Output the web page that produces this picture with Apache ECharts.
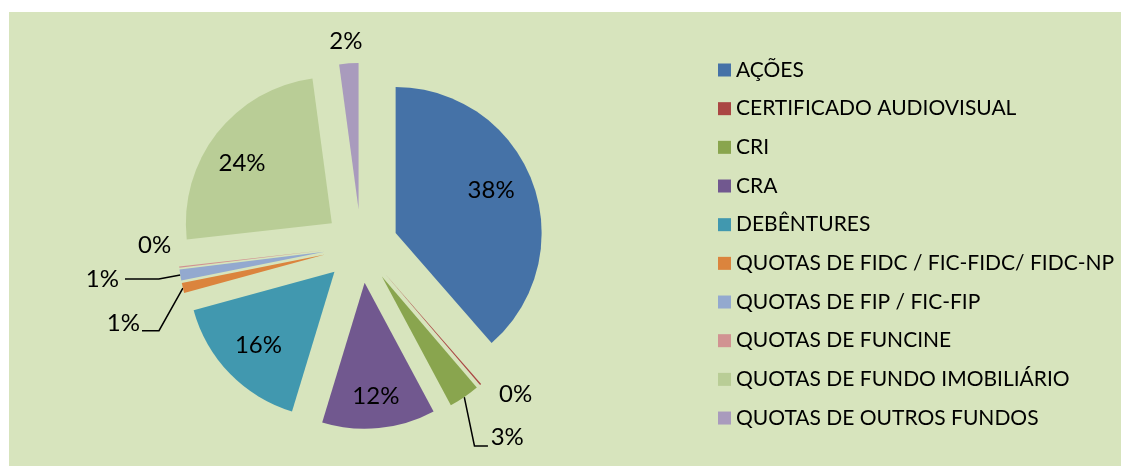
<!DOCTYPE html>
<html><head><meta charset="utf-8">
<script src="https://cdn.jsdelivr.net/npm/echarts@6/dist/echarts.min.js"></script>
<style>
html,body{margin:0;padding:0;background:#fff;width:1121px;height:466px;overflow:hidden}
#bg{position:absolute;left:9px;top:12px;width:1112px;height:454px;background:#D7E4BD}
#chart{position:absolute;left:0;top:0;width:1121px;height:466px}
</style></head><body>
<div id="bg"></div><div id="chart"></div>
<script>
// ---- data ----
const categories = ['AÇÕES', 'CERTIFICADO AUDIOVISUAL', 'CRI', 'CRA', 'DEBÊNTURES',
  'QUOTAS DE FIDC / FIC-FIDC/ FIDC-NP', 'QUOTAS DE FIP / FIC-FIP', 'QUOTAS DE FUNCINE',
  'QUOTAS DE FUNDO IMOBILIÁRIO', 'QUOTAS DE OUTROS FUNDOS'];
const shares = [38.2, 0.15, 3.4, 12.4, 15.9, 1.1, 1.2, 0.15, 24.4, 2.1];

// ---- styles ----
const colors = ['#4572A7', '#AA4643', '#89A54E', '#71588F', '#4198AF',
  '#DB843D', '#93A9CF', '#D19392', '#B9CD96', '#A99BBD'];
const FONT = 'Lato, "Open Sans", sans-serif';
const pct = v => Math.round(v) + '%';
const fmt = p => pct(p.value);
// text raised above / lowered below its anchor by a blank extra line
const raised = gap => p => '{t|' + pct(p.value) + '}\n{' + gap + '| }';
const lowered = gap => p => '{' + gap + '| }\n{t|' + pct(p.value) + '}';

// labels drawn by the coloured series (with leader lines / overlap layout)
const mainLabels = {
  'CERTIFICADO AUDIOVISUAL': { label: { show: true, position: 'outside', distanceToLabelLine: 0,
           padding: [12.4, 0, 12.4, 0], backgroundColor: 'transparent' },
           labelLine: { show: false, length: 12.5, length2: -15.7 } },
  'CRI': { label: { show: true, position: 'outside', distanceToLabelLine: 2.7, formatter: raised('g18') },
           labelLine: { show: true, length: 18, length2: 13.5 } },
  'QUOTAS DE FIDC / FIC-FIDC/ FIDC-NP': { label: { show: true, position: 'outside', distanceToLabelLine: 2,
           formatter: raised('g14') },
           labelLine: { show: true, length: 24.55, length2: 17 } },
  'QUOTAS DE FIP / FIC-FIP': { label: { show: true, position: 'outside', distanceToLabelLine: 6,
           padding: [14, 0, 14, 0], backgroundColor: 'transparent' },
           labelLine: { show: true, length: 26, length2: 33.8 } }
};
// labels drawn by transparent label series
const overlayLabelsA = {
  'DEBÊNTURES': { label: { show: true, position: 'inside' } },
  'QUOTAS DE FUNCINE': { label: { show: true, position: 'outside', distanceToLabelLine: 8,
           formatter: raised('g44') },
           labelLine: { show: false, length: 0, length2: 0 } },
  'QUOTAS DE OUTROS FUNDOS': { label: { show: true, position: 'outside', distanceToLabelLine: -15.2 },
           labelLine: { show: false, length: 22.4, length2: 0 } }
};
const overlayLabelsB = {
  'CRA': { label: { show: true, position: 'inside' } },
  'QUOTAS DE FUNDO IMOBILIÁRIO': { label: { show: true, position: 'inside', formatter: lowered('g20') } }
};
const overlayLabelsC = {
  'AÇÕES': { label: { show: true, position: 'inside', formatter: raised('g13') } }
};

const CENTER = [361, 246], R = 146, OFFSET = 37;
const rich = {
  t: { color: '#000', fontFamily: FONT, fontSize: 24, lineHeight: 26 },
  g13: { fontSize: 1, lineHeight: 13 },
  g14: { fontSize: 1, lineHeight: 14 },
  g18: { fontSize: 1, lineHeight: 18 },
  g20: { fontSize: 1, lineHeight: 20 },
  g44: { fontSize: 1, lineHeight: 44 }
};
const labelBase = { show: false, color: '#000', fontFamily: FONT, fontSize: 24, lineHeight: 26,
  formatter: fmt, rich: rich };

function buildData(extra, withColor) {
  return categories.map((name, i) => Object.assign({
    name, value: shares[i], selected: true,
    itemStyle: withColor ? { color: colors[i] } : undefined,
    label: { show: false }, labelLine: { show: false }
  }, extra[name] || {}));
}
function labelSeries(inner, extra) {
  return {
    type: 'pie', center: CENTER, radius: [inner, R],
    startAngle: 90, clockwise: true, silent: true,
    selectedMode: 'multiple', selectedOffset: OFFSET,
    avoidLabelOverlap: false,
    itemStyle: { color: 'rgba(0,0,0,0)', borderWidth: 0 },
    select: { itemStyle: { borderWidth: 0 } },
    emphasis: { disabled: true, scale: false },
    label: labelBase, labelLine: { show: false },
    data: buildData(extra, false)
  };
}

const chart = echarts.init(document.getElementById('chart'), null, { renderer: 'canvas' });
chart.setOption({
  animation: false,
  backgroundColor: 'transparent',
  legend: {
    orient: 'vertical', left: 713, top: 54,
    icon: 'rect', itemWidth: 13, itemHeight: 13, itemGap: 16.67,
    selectedMode: false,
    textStyle: { color: '#000', fontFamily: FONT, fontSize: 21, lineHeight: 22 },
    data: categories.map((n, i) => ({ name: n, itemStyle: { color: colors[i] } }))
  },
  series: [{
    type: 'pie', name: 'main', center: CENTER, radius: R,
    startAngle: 90, clockwise: true,
    selectedMode: 'multiple', selectedOffset: OFFSET,
    avoidLabelOverlap: true,
    itemStyle: { borderWidth: 0 },
    select: { itemStyle: { borderWidth: 0 } },
    emphasis: { disabled: true, scale: false },
    label: labelBase,
    labelLine: { lineStyle: { color: '#000', width: 1.5 }, smooth: false },
    data: buildData(mainLabels, true)
  },
  labelSeries(60, overlayLabelsA),
  labelSeries(76, overlayLabelsB),
  labelSeries(52, overlayLabelsC)]
});
</script>
</body></html>
